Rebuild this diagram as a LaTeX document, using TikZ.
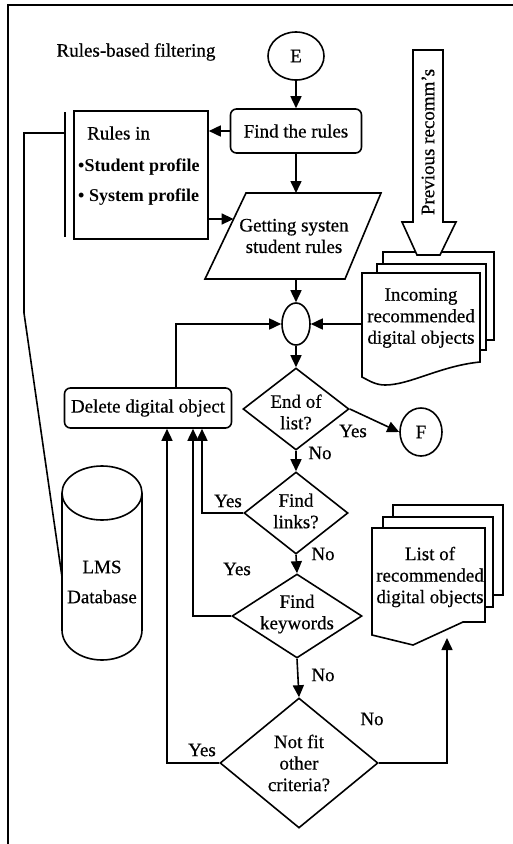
\documentclass[tikz,border=0pt]{standalone}
\usepackage{fontspec}
\setmainfont{Liberation Serif}[UprightFeatures={FakeBold=0.5}]
\usetikzlibrary{shapes.geometric,arrows.meta,calc}
\begin{document}
\begin{tikzpicture}[x=1pt,y=-1pt,
  every node/.style={font=\fontsize{19}{21.5}\selectfont},
  ln/.style={line width=1.6pt},
  arr/.style={ln,-{Triangle[length=12pt,width=11pt]}},
  txt/.style={inner sep=0pt,align=center},
  rbox/.style={draw,ln,rounded corners=6pt,inner sep=0pt},
  dia/.style={draw,ln,diamond,inner sep=0pt},
  oval/.style={draw,ln,ellipse,inner sep=0pt},
  page/.style={draw,ln,fill=white}]
\useasboundingbox (0,0) rectangle (513,844);
% frame
\draw[ln] (8,844) -- (8,5) -- (513,5);
% title
\node[txt] (title) at (136,52) {Rules-based filtering};
% start
\node[oval,minimum width=56pt,minimum height=48pt] (E) at (296,56) {E};
\node[rbox,minimum width=131pt,minimum height=44pt] (find) at (296,131) {Find the rules};
\draw[arr] (E.south) -- (find.north);
% rules box
\node[draw,ln,minimum width=134pt,minimum height=128pt,inner sep=0pt] (rules) at (141,175) {};
\node[txt,anchor=west] (r1) at (87,133) {Rules in};
\node[txt,anchor=west,font=\bfseries\fontsize{18}{21}\selectfont] (r2) at (78,167) {•Student profile};
\node[txt,anchor=west,font=\bfseries\fontsize{18}{21}\selectfont] (r3) at (78,197) {• System profile};
\draw[arr] (find.west) -- (find.west -| rules.east);
% double line and connection to database
\coordinate (dbt) at (65,112);
\coordinate (dbb) at (65,237);
\coordinate (dbm) at (65,133);
\coordinate (lmsL) at (62,577);
\draw[ln] (dbt) -- (dbb);
\draw[ln] (dbm) -- (24,133) -- (24,313) -- (lmsL);
% database cylinder
\draw[ln] (62,493) -- (62,630) arc[start angle=180,end angle=360,x radius=40pt,y radius=30pt] -- (142,493);
\draw[ln] (102,493) ellipse[x radius=40pt,y radius=27pt];
\node[txt,font=\fontsize{19}{30}\selectfont] (lms) at (102,582) {LMS\\Database};
% parallelogram
\coordinate (g1) at (246,193);
\coordinate (g2) at (381,193);
\coordinate (g3) at (345,279);
\coordinate (g4) at (205,279);
\draw[ln] (g1) -- (g2) -- (g3) -- (g4) -- cycle;
\node[txt] (get) at (294,236) {Getting systen\\student rules};
\draw[arr] (find.south) -- (find.south |- g1);
\coordinate (gin) at (233.6,219);
\draw[arr] (rules.east |- gin) -- (gin);
% merge
\node[oval,minimum width=28pt,minimum height=42pt] (merge) at (296,324) {};
\draw[arr] (merge.north |- g4) -- (merge.north);
% incoming stack
\draw[page] (383,252) rectangle (494,340);
\draw[page] (377,264) rectangle (486,350);
\draw[page] (362,273) -- (480,273) -- (480,362) .. controls (440,366) and (410,385) .. (385,385) .. controls (375,385) and (368,380) .. (362,377) -- cycle;
\node[txt] (inc) at (421,318) {Incoming\\recommended\\digital objects};
\coordinate (incL) at (362,324);
\draw[arr] (incL) -- (merge.east);
% previous arrow
\draw[ln,fill=white] (413,50) -- (443,50) -- (443,222) -- (456,222) -- (440,255) -- (417,255) -- (402,222) -- (413,222) -- cycle;
\node[txt,rotate=90] (prev) at (428,142) {Previous recomm's};
% end of list
\node[dia,minimum width=106pt,minimum height=82pt] (end) at (296,409) {};
\node[txt] (endt) at (296,412) {End of\\list?};
\draw[arr] (merge.south) -- (end.north);
\node[oval,minimum width=42pt,minimum height=48pt] (F) at (421,432) {F};
\draw[arr] (end.east) -- (F.west);
\node[txt] (y1) at (353,431) {Yes};
\node[txt] (n1) at (320,453) {No};
% delete
\node[rbox,minimum width=167pt,minimum height=40pt] (del) at (148,408) {Delete digital object};
\draw[arr] ([xshift=28pt]del.north) |- (merge.west);
% find links
\node[dia,minimum width=104pt,minimum height=82pt] (links) at (296,513) {};
\node[txt] (linkst) at (296,511) {Find\\links?};
\draw[arr] (end.south) -- (links.north);
\draw[arr] (links.west) -| ([xshift=54pt]del.south);
\node[txt] (y2) at (228,501) {Yes};
\node[txt] (n2) at (323,554) {No};
% find keywords
\node[dia,minimum width=130pt,minimum height=84pt] (kw) at (297,616) {};
\node[txt] (kwt) at (297,614) {Find\\keywords};
\draw[arr] (links.south) -- (kw.north);
\draw[arr] (kw.west) -| ([xshift=45pt]del.south);
\node[txt] (y3) at (237,569) {Yes};
\node[txt] (n3) at (323,675) {No};
% not fit
\node[dia,minimum width=158pt,minimum height=130pt] (nf) at (299,763) {};
\node[txt] (nft) at (299,763) {Not fit\\other\\criteria?};
\draw[arr] (kw.south) -- (nf.north);
\draw[arr] (nf.west) -| ([xshift=19pt]del.south);
\node[txt] (y4) at (202,750) {Yes};
\node[txt] (n4) at (372,719) {No};
% list stack
\draw[page] (393,505) rectangle (503,595);
\draw[page] (383,517) rectangle (493,607);
\draw[page] (372,528) -- (485,528) -- (485,622) -- (463,622) -- (413,645) -- (372,635) -- cycle;
\node[txt] (list) at (430,577) {List of\\recommended\\digital objects};
\coordinate (listin) at (447,638);
\draw[arr] (nf.east) -| (listin);
\end{tikzpicture}
\end{document}
